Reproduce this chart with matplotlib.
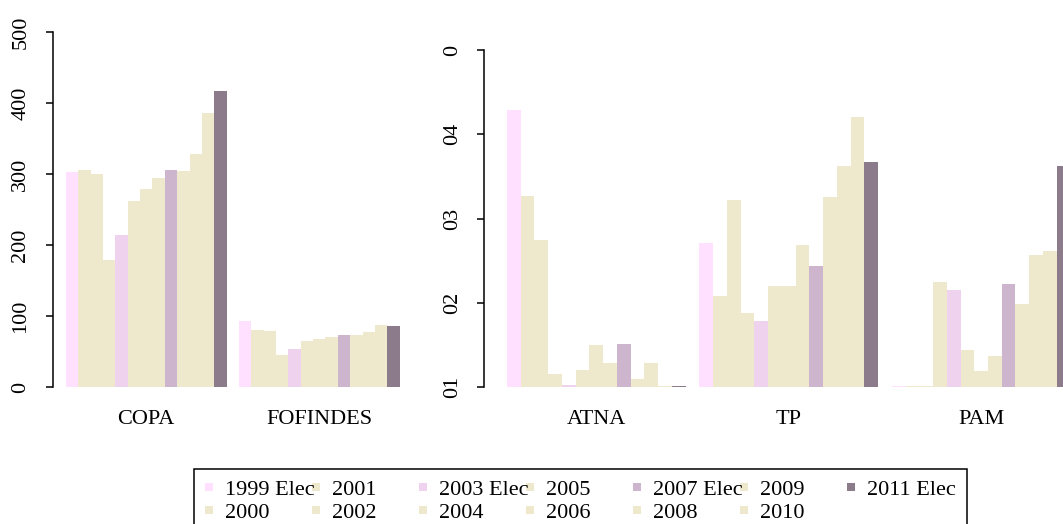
import matplotlib
matplotlib.use("Agg")
import matplotlib.pyplot as plt
import matplotlib.transforms as mtrans
from matplotlib.patches import Rectangle

plt.rcParams['font.family'] = ['Liberation Serif', 'DejaVu Serif']

# ---------------- data ----------------
years = ['1999 Elec', '2000', '2001', '2002', '2003 Elec', '2004', '2005',
         '2006', '2007 Elec', '2008', '2009', '2010', '2011 Elec']
colors = ['#FFE1FF', '#EEE8CD', '#EEE8CD', '#EEE8CD', '#EED2EE', '#EEE8CD',
          '#EEE8CD', '#EEE8CD', '#CDB5CD', '#EEE8CD', '#EEE8CD', '#EEE8CD',
          '#8B7B8B']

left_groups = ['COPA', 'FOFINDES']
copa = [303, 305, 300, 179, 214, 262, 279, 294, 305, 304, 328, 386, 417]
fofindes = [93, 80, 79, 45, 53, 65, 67, 70, 73, 73, 77, 88, 86]
left_ticks = [0, 100, 200, 300, 400, 500]
left_ticklabels = ['0', '100', '200', '300', '400', '500']

right_groups = ['ATNA', 'TP', 'PAM']
atna = [0.0429, 0.0327, 0.0275, 0.0116, 0.0103, 0.0121, 0.0150, 0.0129,
        0.0151, 0.0110, 0.0129, 0.0102, 0.0101]
tp = [0.0271, 0.0208, 0.0322, 0.0188, 0.0179, 0.0220, 0.0220, 0.0269,
      0.0244, 0.0326, 0.0363, 0.0421, 0.0367]
pam = [0.0101, 0.0101, 0.0101, 0.0225, 0.0215, 0.0144, 0.0119, 0.0137,
       0.0222, 0.0199, 0.0257, 0.0262, 0.0363]
right_ticks = [0.01, 0.02, 0.03, 0.04, 0.05]
right_ticklabels = ['01', '02', '03', '04', '0']
right_base = 0.01

# ---------------- figure ----------------
W, H = 1063, 524
DPI = 100
fig = plt.figure(figsize=(W / DPI, H / DPI), dpi=DPI)
FS = 16


def px_rect(x0, y0, x1, y1):
    return [x0 / W, 1 - y1 / H, (x1 - x0) / W, (y1 - y0) / H]


def style_axis(ax, ticks, labels, lo, hi):
    for s in ['top', 'right', 'bottom']:
        ax.spines[s].set_visible(False)
    ax.spines['left'].set_bounds(lo, hi)
    ax.spines['left'].set_linewidth(1.1)
    ax.set_yticks(ticks)
    ax.set_yticklabels(labels, rotation=90, va='center', fontsize=FS)
    ax.tick_params(axis='y', direction='out', length=5, width=1.1, pad=11)
    ax.set_xticks([])


def draw_groups(ax, groups, series, base, label_drop_px):
    off = mtrans.ScaledTranslation(0, -label_drop_px / DPI, fig.dpi_scale_trans)
    for g, (name, vals) in enumerate(zip(groups, series)):
        start = 1 + g * 14
        xs = [start + i + 0.5 for i in range(len(vals))]
        heights = [v - base for v in vals]
        ax.bar(xs, heights, width=1.0, bottom=base, color=colors,
               edgecolor='none', linewidth=0)
        ax.text(start + 6.5, 0, name, transform=ax.get_xaxis_transform() + off,
                ha='center', va='baseline', fontsize=FS)


# left panel
axL = fig.add_axes(px_rect(52.6, 17.8, 413.0, 401.2))
axL.set_xlim(-0.08, 29.08)
axL.set_ylim(-20, 520)
style_axis(axL, left_ticks, left_ticklabels, 0, 500)
draw_groups(axL, left_groups, [copa, fofindes], 0, 424 - 401.2)

# right panel (extends beyond the right edge, as in the reference)
axR = fig.add_axes(px_rect(484.4, 36.5, 1093.0, 400.8))
axR.set_xlim(-0.64, 43.64)
axR.set_ylim(0.0084, 0.0516)
style_axis(axR, right_ticks, right_ticklabels, 0.01, 0.05)
draw_groups(axR, right_groups, [atna, tp, pam], right_base, 424 - 400.8)

# ---------------- legend (R style, column-major, 7 columns) ----------------
box = Rectangle((194 / W, 1 - 540 / H), (967 - 194) / W, (540 - 468.5) / H,
                transform=fig.transFigure, facecolor='white', edgecolor='black',
                linewidth=1.1, clip_on=False)
fig.add_artist(box)
col_x0, col_dx = 209, 107
row_y = [487, 510]
for k, (lab, col) in enumerate(zip(years, colors)):
    c, r = divmod(k, 2)
    mx = col_x0 + c * col_dx
    my = row_y[r]
    fig.add_artist(Rectangle(((mx - 4) / W, 1 - (my + 4) / H), 8 / W, 8 / H,
                             transform=fig.transFigure, facecolor=col,
                             edgecolor='none', clip_on=False))
    fig.text((mx + 16) / W, 1 - (my + 8) / H, lab, ha='left', va='baseline',
             fontsize=FS)

fig.savefig('out.png', dpi=DPI)
